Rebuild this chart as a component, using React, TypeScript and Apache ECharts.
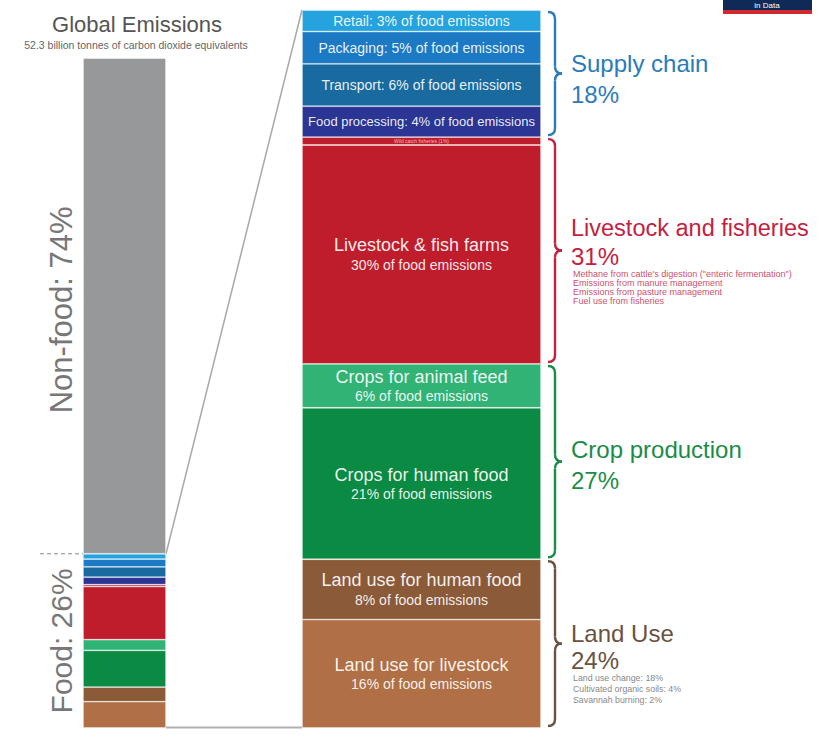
import React, { useEffect, useRef } from "react";
import * as echarts from "echarts";

// Food system segments, bottom to top
const foodCategories = [
  "Land use for livestock",
  "Land use for human food",
  "Crops for human food",
  "Crops for animal feed",
  "Livestock & fish farms",
  "Wild catch fisheries",
  "Food processing",
  "Transport",
  "Packaging",
  "Retail",
];
// bar heights as drawn (share of food emissions, %)
const foodShares = [15.1, 8.4, 21.1, 6.1, 30.5, 1.1, 4.3, 5.9, 4.5, 3.0];
// labelled share of food emissions (%)
const foodLabelPct = [16, 8, 21, 6, 30, 1, 4, 6, 5, 3];
const foodColors = [
  "#b06f45",
  "#8b5a38",
  "#0a8a42",
  "#31b376",
  "#c01d2c",
  "#c01d2c",
  "#2b3593",
  "#186a9f",
  "#1c79c4",
  "#25a3de",
];

const globalCategories = ["Food", "Non-food"];
const globalShares = [26, 74];
const totalEmissions = 52.3; // billion tonnes CO2e

const groupNames = ["Land Use", "Crop production", "Livestock and fisheries", "Supply chain"];
const groupPcts = [24, 27, 31, 18];
const groupFirst = [0, 2, 4, 6];
const groupLast = [1, 3, 5, 9];
const groupColors = ["#6b5140", "#1b8c48", "#c4213f", "#2b7bbb"];
const groupNotes = [
  ["Land use change: 18%", "Cultivated organic soils: 4%", "Savannah burning: 2%"],
  [],
  [
    "Methane from cattle's digestion (\"enteric fermentation\")",
    "Emissions from manure management",
    "Emissions from pasture management",
    "Fuel use from fisheries",
  ],
  [],
];

const FONT = "'Liberation Sans', Arial, Helvetica, sans-serif";

function segLabel(i: number): string {
  const name = foodCategories[i];
  const p = foodLabelPct[i];
  if (i >= 6) {
    return `{s|${name}: ${p}% of food emissions}`;
  }
  if (i === 5) return `{t|${name} (${p}%)}`;
  return `{b|${name}}\n{c|${p}% of food emissions}`;
}

export default function App() {
  const ref = useRef<HTMLDivElement>(null);
  useEffect(() => {
    document.body.style.margin = "0";
    if (!ref.current) return;
    const chart = echarts.init(ref.current, undefined, { renderer: "svg" });

    const foodSum = foodShares.reduce((a, b) => a + b, 0);
    const series: any[] = [];
    // left bar: food segments scaled to global share
    foodCategories.forEach((name, i) => {
      series.push({
        name: name + " (global)",
        type: "bar",
        xAxisIndex: 0,
        yAxisIndex: 0,
        stack: "global",
        barWidth: "100%",
        data: [(foodShares[i] / foodSum) * globalShares[0]],
        itemStyle: { color: foodColors[i], borderColor: "rgba(255,255,255,0.45)", borderWidth: 0.8 },
        silent: true,
      });
    });
    series.push({
      name: globalCategories[1],
      type: "bar",
      xAxisIndex: 0,
      yAxisIndex: 0,
      stack: "global",
      barWidth: "100%",
      data: [globalShares[1]],
      itemStyle: { color: "#97989a", borderColor: "rgba(255,255,255,0.6)", borderWidth: 0.8 },
      silent: true,
    });
    // right bar: food emissions breakdown
    foodCategories.forEach((name, i) => {
      series.push({
        name,
        type: "bar",
        xAxisIndex: 1,
        yAxisIndex: 1,
        stack: "food",
        barWidth: "100%",
        data: [foodShares[i]],
        itemStyle: { color: foodColors[i], borderColor: "rgba(255,255,255,0.45)", borderWidth: 0.8 },
        label: {
          show: true,
          position: "inside",
          formatter: () => segLabel(i),
          color: "rgba(255,255,255,0.92)",
          fontFamily: FONT,
          rich: {
            s: { fontSize: i === 6 ? 13 : 14, fontFamily: FONT, color: "rgba(255,255,255,0.92)" },
            t: { fontSize: 5, fontFamily: FONT, color: "rgba(255,220,220,0.8)" },
            b: { fontSize: 18, lineHeight: 21, fontFamily: FONT, color: "rgba(255,255,255,0.92)" },
            c: { fontSize: 14, lineHeight: 18, fontFamily: FONT, color: "rgba(255,255,255,0.92)" },
          },
        },
        silent: true,
      });
    });

    const option: any = {
      animation: false,
      grid: [
        { left: 83, top: 58, width: 83, height: 670 },
        { left: 302, top: 10, width: 239, height: 718 },
      ],
      xAxis: [
        { type: "category", gridIndex: 0, data: ["Global"], show: false },
        { type: "category", gridIndex: 1, data: ["Food"], show: false },
      ],
      yAxis: [
        { type: "value", gridIndex: 0, min: 0, max: 100, show: false },
        { type: "value", gridIndex: 1, min: 0, max: 100, show: false },
      ],
      series,
    };
    chart.setOption(option);

    const px0 = (v: number) => chart.convertToPixel({ gridIndex: 0 }, [0, v]) as number[];
    const px1 = (v: number) => chart.convertToPixel({ gridIndex: 1 }, [0, v]) as number[];

    const leftRight = 166;
    const rightLeft = 302;
    const foodTopY = px0(globalShares[0])[1];
    const leftBottomY = px0(0)[1];
    const leftTopY = px0(100)[1];
    const rightTopY = px1(100)[1];
    const rightBottomY = px1(0)[1];

    const cum: number[] = [0];
    foodShares.forEach((v, i) => cum.push(cum[i] + v));

    const g: any[] = [];
    const text = (t: string, x: number, y: number, size: number, fill: string, extra: any = {}) => ({
      type: "text",
      x,
      y,
      silent: true,
      ...extra,
      style: {
        text: t,
        fill,
        fontSize: size,
        fontFamily: FONT,
        align: extra.align || "left",
        verticalAlign: "middle",
      },
    });

    // headers
    g.push({ ...text("Global Emissions", 137, 24, 22, "#555", { align: "center" }) });
    g.push({
      ...text(`${totalEmissions} billion tonnes of carbon dioxide equivalents`, 136, 45, 10.5, "#666", {
        align: "center",
      }),
    });
    // vertical captions
    const midNon = (leftTopY + foodTopY) / 2;
    const midFood = (foodTopY + leftBottomY) / 2;
    g.push({
      ...text(`${globalCategories[1]}: ${globalShares[1]}%`, 61, midNon + 4, 31, "#777", {
        align: "center",
        rotation: Math.PI / 2,
      }),
    });
    g.push({
      ...text(`${globalCategories[0]}: ${globalShares[0]}%`, 61, midFood, 30, "#777", {
        align: "center",
        rotation: Math.PI / 2,
      }),
    });
    // dashed divider
    g.push({
      type: "line",
      silent: true,
      shape: { x1: 40, y1: foodTopY, x2: 83, y2: foodTopY },
      style: { stroke: "#888", lineWidth: 1, lineDash: [4, 3] },
    });
    // connecting lines
    g.push({
      type: "line",
      silent: true,
      shape: { x1: leftRight, y1: foodTopY, x2: rightLeft, y2: rightTopY },
      style: { stroke: "#a9a9a9", lineWidth: 1.5 },
    });
    g.push({
      type: "line",
      silent: true,
      shape: { x1: leftRight, y1: leftBottomY - 0.5, x2: rightLeft, y2: rightBottomY - 0.5 },
      style: { stroke: "#b0b0b0", lineWidth: 2 },
    });

    // braces and group labels
    const titleOffset = [-10, -12, -23, -10];
    const pctGap = [27, 31, 29, 31];
    groupNames.forEach((name, k) => {
      const yTop = px1(cum[groupLast[k] + 1])[1] + 2;
      const yBot = px1(cum[groupFirst[k]])[1] - 2;
      const ym = (yTop + yBot) / 2;
      const x0 = 548;
      const xm = 555;
      const xt = 562;
      const r = 7;
      const col = groupColors[k];
      const st = { stroke: col, lineWidth: 2.4, fill: "none" };
      g.push({ type: "bezierCurve", silent: true, shape: { x1: x0, y1: yTop, cpx1: xm, cpy1: yTop, x2: xm, y2: yTop + r }, style: st });
      g.push({ type: "line", silent: true, shape: { x1: xm, y1: yTop + r, x2: xm, y2: ym - r }, style: st });
      g.push({ type: "bezierCurve", silent: true, shape: { x1: xm, y1: ym - r, cpx1: xm, cpy1: ym, x2: xt, y2: ym }, style: st });
      g.push({ type: "bezierCurve", silent: true, shape: { x1: xt, y1: ym, cpx1: xm, cpy1: ym, x2: xm, y2: ym + r }, style: st });
      g.push({ type: "line", silent: true, shape: { x1: xm, y1: ym + r, x2: xm, y2: yBot - r }, style: st });
      g.push({ type: "bezierCurve", silent: true, shape: { x1: xm, y1: yBot - r, cpx1: xm, cpy1: yBot, x2: x0, y2: yBot }, style: st });

      const ty = ym + titleOffset[k];
      const titleSize = k === 2 ? 23.5 : 24;
      g.push(text(name, 571, ty, titleSize, col));
      g.push(text(`${groupPcts[k]}%`, 571, ty + pctGap[k], 24, col));
      const notes = groupNotes[k];
      const noteStart = ty + pctGap[k] + 17;
      const noteGap = k === 0 ? 11 : 9;
      notes.forEach((n, j) => {
        g.push(text(n, 573, noteStart + j * noteGap, k === 0 ? 8.8 : 9, k === 0 ? "#888" : "#d0506a"));
      });
    });

    // logo fragment (top right)
    g.push({ type: "rect", silent: true, shape: { x: 723, y: -10, width: 89, height: 20 }, style: { fill: "#0f2a56" } });
    g.push({ type: "rect", silent: true, shape: { x: 723, y: 10, width: 89, height: 4 }, style: { fill: "#cf2a2f" } });
    g.push({
      type: "text",
      x: 767,
      y: 5,
      silent: true,
      style: { text: "in Data", fill: "#ffffff", fontSize: 8, fontFamily: FONT, align: "center", verticalAlign: "middle" },
    });

    chart.setOption({ graphic: { elements: g } });

    return () => chart.dispose();
  }, []);

  return (
    <div
      ref={ref}
      style={{ position: "absolute", left: 0, top: 0, width: 821, height: 751, background: "#fff" }}
    />
  );
}
